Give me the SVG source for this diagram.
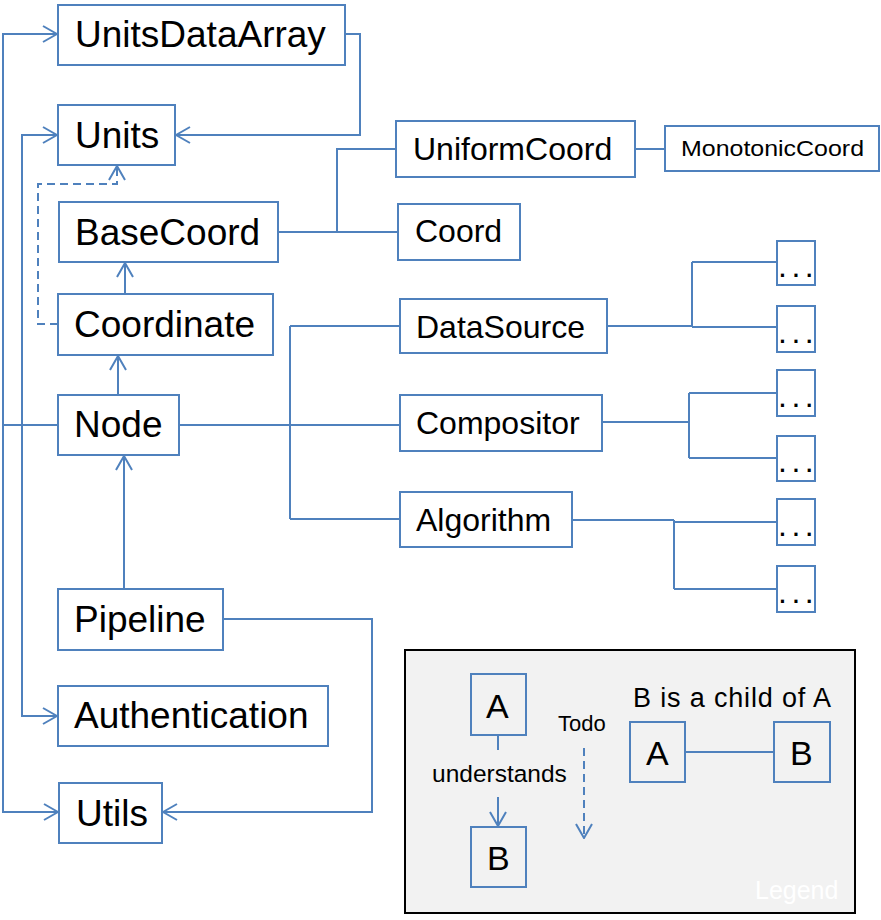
<svg xmlns="http://www.w3.org/2000/svg" width="881" height="920" viewBox="0 0 881 920">
<style>
.bx{fill:#fff;stroke:#4f81bd;stroke-width:2}
.lb{fill:none;stroke:#4f81bd;stroke-width:2}
.t{font-family:"Liberation Sans",Arial,sans-serif;fill:#000}
.t1{font-size:37px}
.t2{font-size:32px}
.dt{font-family:"Liberation Sans",Arial,sans-serif;font-size:32px;letter-spacing:4.5px;fill:#000}
.c{fill:none;stroke:#4f81bd;stroke-width:2}
.a{marker-end:url(#arr)}
.d{stroke-dasharray:8 5}
</style>
<defs>
<marker id="arr" viewBox="0 0 16 18" refX="15" refY="9" markerWidth="16" markerHeight="18" markerUnits="userSpaceOnUse" orient="auto">
<path d="M1,1 L15,9 L1,17" fill="none" stroke="#4f81bd" stroke-width="2"/>
</marker>
</defs>
<rect width="881" height="920" fill="#fff"/>
<g id="connectors">
<path class="c a" d="M58,425 H3 V34 H57"/>
<path class="c a" d="M3,425 V812 H58"/>
<path class="c a" d="M22,425 V135 H57"/>
<path class="c a" d="M22,425 V716 H57"/>
<path class="c a" d="M345,34 H360 V135 H176"/>
<path class="c a d" d="M58,324 H38 V184 H117 V166"/>
<path class="c a" d="M125,294 V263"/>
<path class="c a" d="M118,395 V356"/>
<path class="c a" d="M124,589 V456"/>
<path class="c a" d="M223,619 H372 V812 H163"/>
<path class="c" d="M278,232 H398 M337,232 V149 H396"/>
<path class="c" d="M635,149 H665"/>
<path class="c" d="M179,425 H400 M290,326 V519 M290,326 H400 M290,519 H400"/>
<path class="c" d="M607,326 H692 M692,262 V327 M692,262 H778 M692,327 H778"/>
<path class="c" d="M602,422 H689 M689,393 V458 M689,393 H777 M689,458 H777"/>
<path class="c" d="M572,520 H674 M674,520 V589 M674,522 H777 M674,589 H777"/>
</g>
<g id="UnitsDataArray"><rect class="bx" x="58" y="5" width="287" height="60"/><text class="t t1" x="75" y="47">UnitsDataArray</text></g>
<g id="Units"><rect class="bx" x="58" y="105" width="117" height="60"/><text class="t t1" x="75" y="148">Units</text></g>
<g id="BaseCoord"><rect class="bx" x="59" y="202" width="219" height="60"/><text class="t t1" x="75" y="245">BaseCoord</text></g>
<g id="Coordinate"><rect class="bx" x="58" y="294" width="215" height="61"/><text class="t t1" x="74" y="337">Coordinate</text></g>
<g id="Node"><rect class="bx" x="58" y="395" width="121" height="60"/><text class="t t1" x="74" y="437">Node</text></g>
<g id="Pipeline"><rect class="bx" x="58" y="589" width="165" height="61"/><text class="t t1" x="74" y="632">Pipeline</text></g>
<g id="Authentication"><rect class="bx" x="58" y="686" width="270" height="60"/><text class="t t1" x="74" y="728">Authentication</text></g>
<g id="Utils"><rect class="bx" x="59" y="783" width="103" height="60"/><text class="t t1" x="76" y="826">Utils</text></g>
<g id="UniformCoord"><rect class="bx" x="396" y="121" width="239" height="56"/><text class="t t2" x="413" y="160">UniformCoord</text></g>
<g id="MonotonicCoord"><rect class="bx" x="665" y="126" width="214" height="45"/><text class="t" font-size="22.5" x="681" y="156" textLength="183" lengthAdjust="spacingAndGlyphs">MonotonicCoord</text></g>
<g id="Coord"><rect class="bx" x="398" y="204" width="122" height="56"/><text class="t t2" x="415" y="242">Coord</text></g>
<g id="DataSource"><rect class="bx" x="400" y="299" width="207" height="54"/><text class="t t2" x="416" y="338">DataSource</text></g>
<g id="Compositor"><rect class="bx" x="400" y="395" width="202" height="56"/><text class="t t2" x="416" y="434">Compositor</text></g>
<g id="Algorithm"><rect class="bx" x="400" y="492" width="172" height="55"/><text class="t t2" x="416" y="531">Algorithm</text></g>
<g id="DS1"><rect class="bx" x="777" y="241" width="38" height="44"/><text class="dt" x="778" y="277">...</text></g>
<g id="DS2"><rect class="bx" x="777" y="306" width="38" height="46"/><text class="dt" x="778" y="343">...</text></g>
<g id="CO1"><rect class="bx" x="777" y="370" width="38" height="46"/><text class="dt" x="778" y="407">...</text></g>
<g id="CO2"><rect class="bx" x="777" y="436" width="38" height="45"/><text class="dt" x="778" y="472">...</text></g>
<g id="AL1"><rect class="bx" x="777" y="499" width="38" height="46"/><text class="dt" x="778" y="536">...</text></g>
<g id="AL2"><rect class="bx" x="777" y="566" width="38" height="46"/><text class="dt" x="778" y="603">...</text></g>
<g id="Legend">
<rect x="405" y="650" width="450" height="263" fill="#f2f2f2" stroke="#000" stroke-width="2"/>
<rect class="lb" x="471" y="674" width="55" height="61"/><text class="t" font-size="34" x="486" y="718">A</text>
<path class="c" d="M498,735 V750"/>
<text class="t" font-size="24.5" x="432" y="782">understands</text>
<path class="c a" d="M498,797 V826"/>
<rect class="lb" x="471" y="827" width="55" height="60"/><text class="t" font-size="34" x="487" y="870">B</text>
<text class="t" font-size="22" x="558" y="731">Todo</text>
<path class="c a d" d="M584,748 V838"/>
<text class="t" font-size="27" x="633" y="707" textLength="198">B is a child of A</text>
<rect class="lb" x="630" y="722" width="55" height="60"/><text class="t" font-size="34" x="646" y="765">A</text>
<path class="c" d="M685,752 H774"/>
<rect class="lb" x="774" y="722" width="56" height="60"/><text class="t" font-size="34" x="790" y="765">B</text>
<text x="755" y="899" font-family="Liberation Sans, Arial, sans-serif" font-size="25" fill="#fff">Legend</text>
</g>
</svg>
